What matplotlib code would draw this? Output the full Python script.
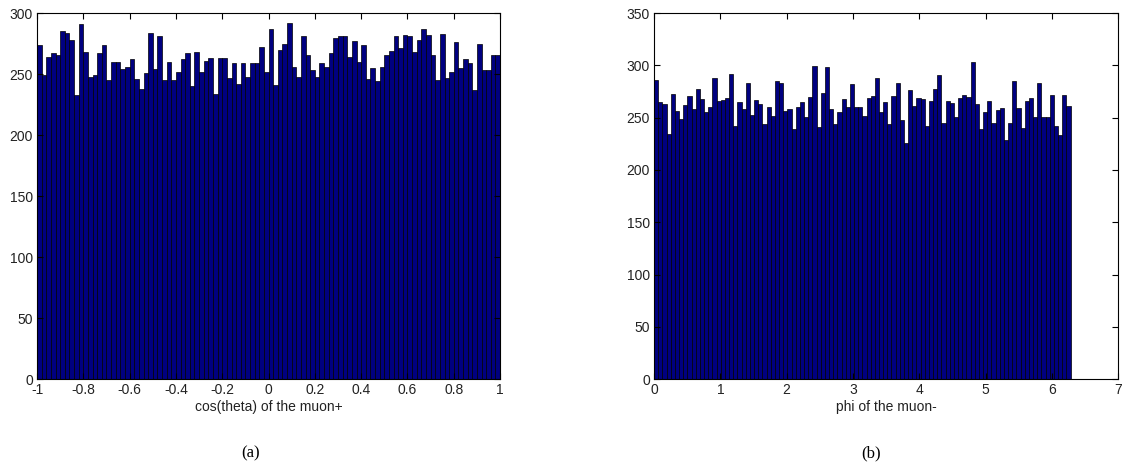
import numpy as np
import matplotlib.pyplot as plt

# Histogram counts (100 bins each)
cos_theta_counts = [
    274, 249, 264, 267, 266, 285, 284, 278, 233, 291, 268, 248, 249, 267, 274, 245, 260,
    260, 254, 256, 262, 246, 238, 251, 284, 254, 281, 245, 260, 245, 252, 262, 267,
    240, 268, 252, 261, 263, 234, 263, 263, 247, 259, 242, 259, 248, 259, 259, 272, 252,
    287, 241, 270, 275, 292, 256, 248, 281, 266, 253, 248, 259, 256, 267, 280, 281,
    281, 264, 277, 260, 274, 246, 255, 244, 256, 266, 269, 281, 271, 282, 281, 268, 278,
    287, 282, 266, 245, 283, 247, 252, 276, 255, 262, 259, 237, 275, 253, 253, 266, 266,
]
phi_counts = [
    286, 265, 263, 234, 273, 256, 249, 262, 271, 258, 277, 268, 255, 260, 288, 266, 267,
    269, 292, 242, 265, 258, 283, 253, 267, 263, 244, 260, 252, 285, 283, 256, 258, 239, 260,
    265, 251, 270, 299, 241, 274, 298, 258, 244, 255, 268, 260, 282, 260, 260, 252, 269,
    271, 288, 255, 265, 244, 271, 283, 248, 226, 276, 261, 269, 268, 242, 266, 277, 291,
    245, 266,
    264, 251, 269, 272, 270, 303, 263, 239, 255, 266, 245, 257, 259, 229, 245, 285, 259,
    240, 266, 269, 251, 283, 251, 251, 272, 242, 233, 272, 261,
]

cos_edges = np.linspace(-1, 1, len(cos_theta_counts) + 1)
phi_edges = np.linspace(0, 2 * np.pi, len(phi_counts) + 1)

cos_ticks = [-1, -0.8, -0.6, -0.4, -0.2, 0, 0.2, 0.4, 0.6, 0.8, 1]
cos_ticklabels = ["-1", "-0.8", "-0.6", "-0.4", "-0.2", "0", "0.2", "0.4", "0.6", "0.8", "1"]
phi_ticks = [0, 1, 2, 3, 4, 5, 6, 7]

plt.rcParams['font.family'] = ['Liberation Sans Narrow', 'Liberation Sans', 'DejaVu Sans']

BAR_COLOR = '#000080'
TEXT_COLOR = '#222222'


def style_axes(ax):
    ax.tick_params(direction='in', top=True, right=True, labelsize=10,
                   length=4, width=0.8, pad=3, labelcolor=TEXT_COLOR)
    for s in ax.spines.values():
        s.set_linewidth(0.8)


fig = plt.figure(figsize=(11.22, 4.68), dpi=100)

# (a) cos(theta) of the muon+
ax1 = fig.add_axes([0.033, 0.190, 0.4127, 0.782])
ax1.bar(cos_edges[:-1], cos_theta_counts, width=np.diff(cos_edges), align='edge',
        color=BAR_COLOR, edgecolor='black', linewidth=0.5)
ax1.set_xlim(-1, 1)
ax1.set_ylim(0, 300)
ax1.set_xticks(cos_ticks)
ax1.set_xticklabels(cos_ticklabels)
ax1.set_yticks(np.arange(0, 301, 50))
ax1.set_xlabel("cos(theta) of the muon+", fontsize=10, labelpad=2, color=TEXT_COLOR)
style_axes(ax1)

# (b) phi of the muon-
ax2 = fig.add_axes([0.583, 0.190, 0.4135, 0.782])
ax2.bar(phi_edges[:-1], phi_counts, width=np.diff(phi_edges), align='edge',
        color=BAR_COLOR, edgecolor='black', linewidth=0.5)
ax2.set_xlim(0, 7)
ax2.set_ylim(0, 350)
ax2.set_xticks(phi_ticks)
ax2.set_yticks(np.arange(0, 351, 50))
ax2.set_xlabel("phi of the muon-", fontsize=10, labelpad=2, color=TEXT_COLOR)
style_axes(ax2)

# sub-figure captions
fig.text(0.223, 0.032, "(a)", ha='center', va='center', fontsize=12,
         family='Liberation Serif')
fig.text(0.776, 0.032, "(b)", ha='center', va='center', fontsize=12,
         family='Liberation Serif')

fig.savefig("out.png", dpi=100)
